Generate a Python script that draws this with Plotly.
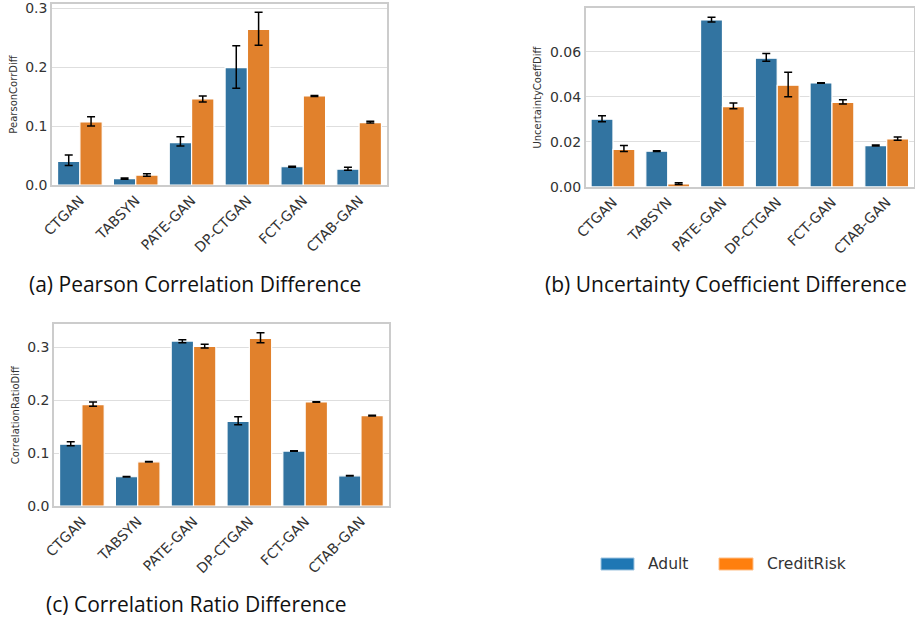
import plotly.graph_objects as go

categories = ["CTGAN", "TABSYN", "PATE-GAN", "DP-CTGAN", "FCT-GAN", "CTAB-GAN"]
series_names = ["Adult", "CreditRisk"]

# (a) Pearson Correlation Difference
pearson_adult = [0.040, 0.011, 0.072, 0.199, 0.031, 0.027]
pearson_adult_hi = [0.051, 0.012, 0.082, 0.236, 0.032, 0.030]
pearson_adult_lo = [0.033, 0.010, 0.066, 0.164, 0.030, 0.025]
pearson_credit = [0.107, 0.017, 0.146, 0.264, 0.151, 0.106]
pearson_credit_hi = [0.116, 0.019, 0.151, 0.293, 0.152, 0.108]
pearson_credit_lo = [0.100, 0.015, 0.141, 0.237, 0.150, 0.105]

# (b) Uncertainty Coefficient Difference
uncert_adult = [0.0301, 0.0159, 0.0742, 0.0572, 0.0462, 0.0184]
uncert_adult_hi = [0.0316, 0.0161, 0.0754, 0.0593, 0.0463, 0.0186]
uncert_adult_lo = [0.0290, 0.0157, 0.0733, 0.0559, 0.0461, 0.0182]
uncert_credit = [0.0167, 0.0013, 0.0357, 0.0452, 0.0376, 0.0213]
uncert_credit_hi = [0.0184, 0.0019, 0.0373, 0.0510, 0.0388, 0.0222]
uncert_credit_lo = [0.0157, 0.0011, 0.0348, 0.0401, 0.0369, 0.0207]

# (c) Correlation Ratio Difference
ratio_adult = [0.117, 0.0555, 0.312, 0.160, 0.104, 0.0573]
ratio_adult_hi = [0.1216, 0.0560, 0.3144, 0.169, 0.1045, 0.0578]
ratio_adult_lo = [0.114, 0.0550, 0.309, 0.154, 0.1035, 0.0568]
ratio_credit = [0.192, 0.0838, 0.302, 0.317, 0.197, 0.171]
ratio_credit_hi = [0.197, 0.0843, 0.306, 0.3277, 0.1975, 0.1716]
ratio_credit_lo = [0.189, 0.0833, 0.299, 0.309, 0.1965, 0.1704]

y_titles = ["PearsonCorrDiff", "UncertaintyCoeffDiff", "CorrelationRatioDiff"]
captions = ["(a) Pearson Correlation Difference", "(b) Uncertainty Coefficient Difference",
            "(c) Correlation Ratio Difference"]
y_ranges = [[0, 0.307], [0, 0.0794], [0, 0.344]]
y_ticks = [[0.0, 0.1, 0.2, 0.3], [0.0, 0.02, 0.04, 0.06], [0.0, 0.1, 0.2, 0.3]]
y_ticktext = [["0.0", "0.1", "0.2", "0.3"], ["0.00", "0.02", "0.04", "0.06"], ["0.0", "0.1", "0.2", "0.3"]]

bar_colors = ["#3274a1", "#e1812c"]
legend_colors = ["#1f77b4", "#ff7f0e"]

panels = [
    [(pearson_adult, pearson_adult_hi, pearson_adult_lo), (pearson_credit, pearson_credit_hi, pearson_credit_lo)],
    [(uncert_adult, uncert_adult_hi, uncert_adult_lo), (uncert_credit, uncert_credit_hi, uncert_credit_lo)],
    [(ratio_adult, ratio_adult_hi, ratio_adult_lo), (ratio_credit, ratio_credit_hi, ratio_credit_lo)],
]

x_domains = [[0.0568, 0.423], [0.640, 0.999], [0.059, 0.425]]
y_domains = [[0.702, 0.9936], [0.699, 0.9866], [0.185, 0.478]]

fig = go.Figure()
axfont = dict(family="DejaVu Sans", size=14, color="#333333")

for i, panel in enumerate(panels):
    xa = "x" if i == 0 else f"x{i+1}"
    ya = "y" if i == 0 else f"y{i+1}"
    for j, (vals, hi, lo) in enumerate(panel):
        fig.add_trace(go.Bar(
            x=categories, y=vals, name=series_names[j], showlegend=False,
            marker=dict(color=bar_colors[j], line=dict(color="white", width=1.2)),
            error_y=dict(type="data", symmetric=False,
                         array=[h - v for h, v in zip(hi, vals)],
                         arrayminus=[v - l for v, l in zip(vals, lo)],
                         color="black", thickness=1.5, width=4),
            xaxis=xa, yaxis=ya,
        ))
    xkey = "xaxis" if i == 0 else f"xaxis{i+1}"
    ykey = "yaxis" if i == 0 else f"yaxis{i+1}"
    fig.layout[xkey] = dict(domain=x_domains[i], anchor=ya, tickangle=-45, tickfont=axfont,
                            showline=True, mirror=True, linecolor="#cccccc", linewidth=1.5,
                            showgrid=False, ticks="", automargin=False)
    fig.layout[ykey] = dict(domain=y_domains[i], anchor=xa, range=y_ranges[i],
                            tickvals=y_ticks[i], ticktext=y_ticktext[i], tickfont=axfont,
                            title=dict(text=y_titles[i], font=dict(family="DejaVu Sans", size=10, color="#333333"),
                                       standoff=6),
                            showline=True, mirror=True, linecolor="#cccccc", linewidth=1.5,
                            showgrid=True, gridcolor="#dedede", gridwidth=1.2, zeroline=False, ticks="",
                            automargin=False)

cap_pos = [(195, 284), (726, 284), (196, 604)]
for cap, (cx, cy) in zip(captions, cap_pos):
    fig.add_annotation(text=cap, x=cx / 915, y=1 - cy / 621, xref="paper", yref="paper",
                       showarrow=False, xanchor="center", yanchor="middle",
                       font=dict(family="Open Sans", size=21, color="#111111"))

# legend (manual swatches)
leg = [(601, 634, 646), (719, 753, 765)]
for k, (x0, x1, tx) in enumerate(leg):
    fig.add_shape(type="rect", xref="paper", yref="paper",
                  x0=x0 / 915, x1=x1 / 915, y0=1 - 570 / 621, y1=1 - 558 / 621,
                  fillcolor=legend_colors[k], line=dict(color="#9ec4e0" if k == 0 else "#ffbf87", width=1))
    fig.add_annotation(text=series_names[k], x=tx / 915, y=1 - 564 / 621, xref="paper", yref="paper",
                       showarrow=False, xanchor="left", yanchor="middle",
                       font=dict(family="DejaVu Sans", size=15.5, color="#333333"))

fig.update_layout(width=915, height=621, margin=dict(l=0, r=0, t=0, b=0),
                  plot_bgcolor="white", paper_bgcolor="white",
                  barmode="group", bargap=0.2, bargroupgap=0.0, showlegend=False)

fig.write_html("out.html", config={"displayModeBar": False},
               post_script="document.body.style.margin='0px';document.body.style.overflow='hidden';")
